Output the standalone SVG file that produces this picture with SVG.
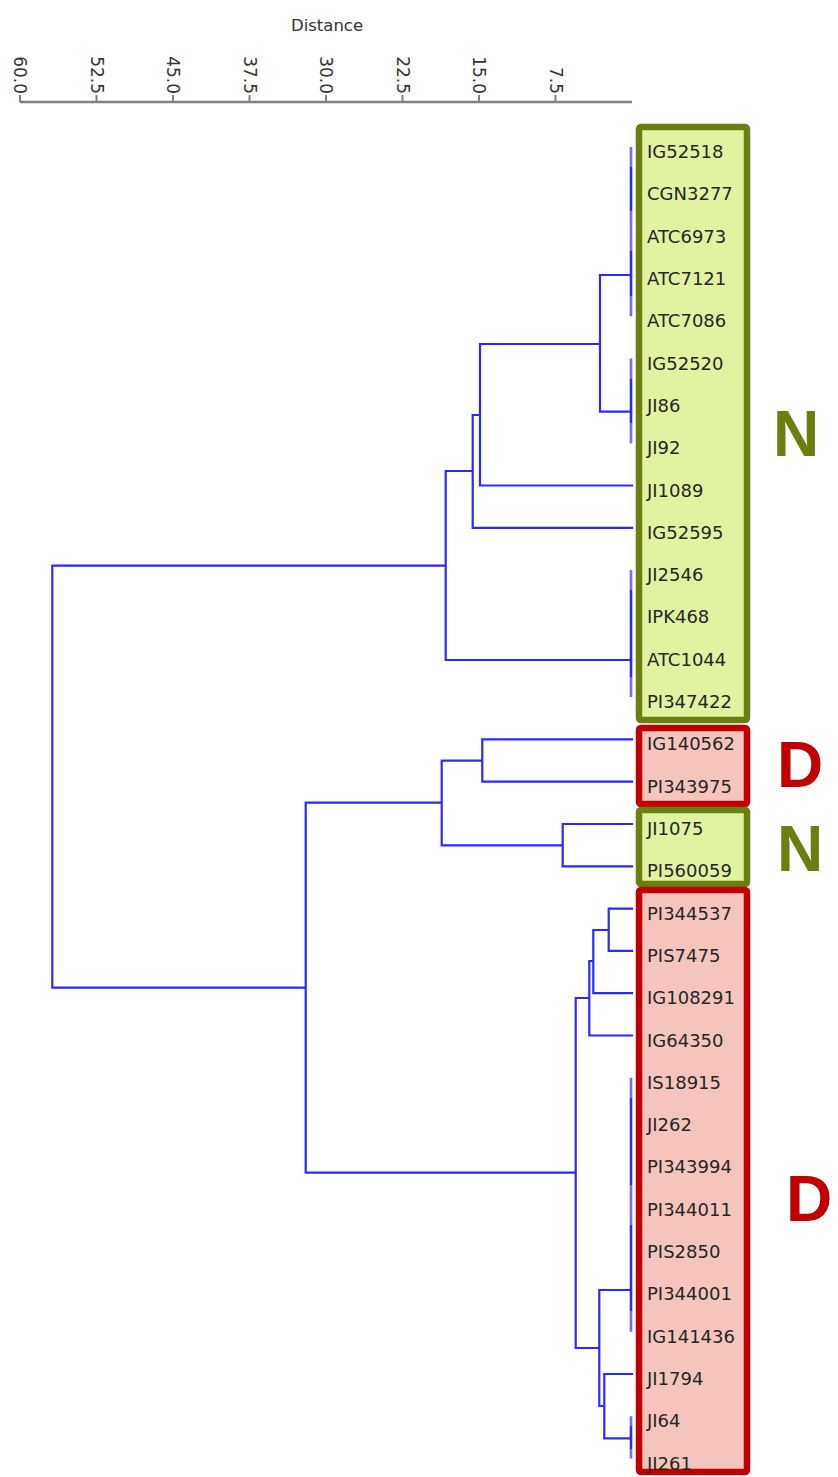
<svg xmlns="http://www.w3.org/2000/svg" width="838" height="1477" viewBox="0 0 838 1477">
<style>
.lbl{font-family:"DejaVu Sans",Verdana,sans-serif;font-size:18px;fill:#262626}
.tick{font-family:"DejaVu Sans",Verdana,sans-serif;font-size:17px;fill:#333}
.big{font-family:"Liberation Sans",Arial,sans-serif;font-weight:bold;font-size:64px}
.br{fill:none;stroke:#2a2aff;stroke-width:2.2;stroke-linecap:square}
.bar{fill:none;stroke:#4a4aff;stroke-width:2.6;stroke-opacity:0.8}
.boxN{fill:#e1f3a1;stroke:#6b7f10;stroke-width:6.5}
.boxD{fill:#f5c5bd;stroke:#c00000;stroke-width:6.5}
</style>
<rect width="838" height="1477" fill="#ffffff"/>
<g id="axis">
<text x="327" y="30.5" text-anchor="middle" font-family="DejaVu Sans, Verdana, sans-serif" font-size="16.5" fill="#333">Distance</text>
<line x1="20" y1="102" x2="632" y2="102" stroke="#808080" stroke-width="2.5"/>
<g stroke="#808080" stroke-width="2">
<line x1="20" y1="95" x2="20" y2="102"/><line x1="96.5" y1="95" x2="96.5" y2="102"/>
<line x1="173" y1="95" x2="173" y2="102"/><line x1="249.5" y1="95" x2="249.5" y2="102"/>
<line x1="326" y1="95" x2="326" y2="102"/><line x1="402.5" y1="95" x2="402.5" y2="102"/>
<line x1="479" y1="95" x2="479" y2="102"/><line x1="555.5" y1="95" x2="555.5" y2="102"/>
</g>
<g class="tick" text-anchor="end">
<text transform="translate(14,94) rotate(90)">60.0</text>
<text transform="translate(90.5,94) rotate(90)">52.5</text>
<text transform="translate(167,94) rotate(90)">45.0</text>
<text transform="translate(243.5,94) rotate(90)">37.5</text>
<text transform="translate(320,94) rotate(90)">30.0</text>
<text transform="translate(396.5,94) rotate(90)">22.5</text>
<text transform="translate(473,94) rotate(90)">15.0</text>
<text transform="translate(549.5,94) rotate(90)">7.5</text>
</g>
</g>
<g id="box-N1"><rect class="boxN" x="639" y="127" width="108" height="593" rx="2"/></g>
<g id="box-D1"><rect class="boxD" x="639" y="728" width="108" height="76" rx="2"/></g>
<g id="box-N2"><rect class="boxN" x="639" y="810" width="108" height="74" rx="2"/></g>
<g id="box-D2"><rect class="boxD" x="639" y="890" width="108" height="582" rx="2"/></g>
<g id="connectors">
<path class="bar" d="M631 147V316.2M631 358.6V443.2M631 570.1V697M631 1077.8V1331.7M631 1416.3V1458.6"/>
<path class="br" d="M631 168V210M631 252V295M631 380V422M631 591V676M631 1099V1184M631 1226V1310M631 1427V1448"/>
<path class="br" d="M600 275H631M600 411.7H631M600 275V411.7M480 344H600M480 344V485.5H632M472.7 415H480M472.7 415V527.8H632M445.7 471H472.7M445.7 471V660H631M52.3 565.7H445.7M52.3 565.7V987.7H305.7M305.7 802.7V1172.7M305.7 802.7H441.7M441.7 760.7V845.3M441.7 760.7H482.3M482.3 739.3V781.7M482.3 739.3H632M482.3 781.7H632M441.7 845.3H562.7M562.7 824V866.3M562.7 824H632M562.7 866.3H632M305.7 1172.7H575.7M575.7 998V1348M575.7 998H589.3M589.3 961V1035.5H632M589.3 961H593.3M593.3 930V993.2H632M593.3 930H608.7M608.7 908.6V950.9M608.7 908.6H632M608.7 950.9H632M599.3 1290H631M575.7 1348H599.3M599.3 1290V1406M599.3 1406H604.3M604.3 1374V1438.3M604.3 1374H632M604.3 1438.3H631"/>
</g>
<g id="labels" class="lbl">
<text x="647" y="158">IG52518</text>
<text x="647" y="200.3">CGN3277</text>
<text x="647" y="242.6">ATC6973</text>
<text x="647" y="284.9">ATC7121</text>
<text x="647" y="327.2">ATC7086</text>
<text x="647" y="369.6">IG52520</text>
<text x="647" y="411.9">JI86</text>
<text x="647" y="454.2">JI92</text>
<text x="647" y="496.5">JI1089</text>
<text x="647" y="538.8">IG52595</text>
<text x="647" y="581.1">JI2546</text>
<text x="647" y="623.4">IPK468</text>
<text x="647" y="665.7">ATC1044</text>
<text x="647" y="708">PI347422</text>
<text x="647" y="750.3">IG140562</text>
<text x="647" y="792.7">PI343975</text>
<text x="647" y="835">JI1075</text>
<text x="647" y="877.3">PI560059</text>
<text x="647" y="919.6">PI344537</text>
<text x="647" y="961.9">PIS7475</text>
<text x="647" y="1004.2">IG108291</text>
<text x="647" y="1046.5">IG64350</text>
<text x="647" y="1088.8">IS18915</text>
<text x="647" y="1131.1">JI262</text>
<text x="647" y="1173.4">PI343994</text>
<text x="647" y="1215.8">PI344011</text>
<text x="647" y="1258.1">PIS2850</text>
<text x="647" y="1300.4">PI344001</text>
<text x="647" y="1342.7">IG141436</text>
<text x="647" y="1385">JI1794</text>
<text x="647" y="1427.3">JI64</text>
<text x="647" y="1469.6">JI261</text>
</g>
<g id="group-letters" class="big">
<text x="773" y="456" fill="#6b7f10">N</text>
<text x="777" y="787" fill="#c00000">D</text>
<text x="777" y="871" fill="#6b7f10">N</text>
<text x="786" y="1221" fill="#c00000">D</text>
</g>
</svg>
